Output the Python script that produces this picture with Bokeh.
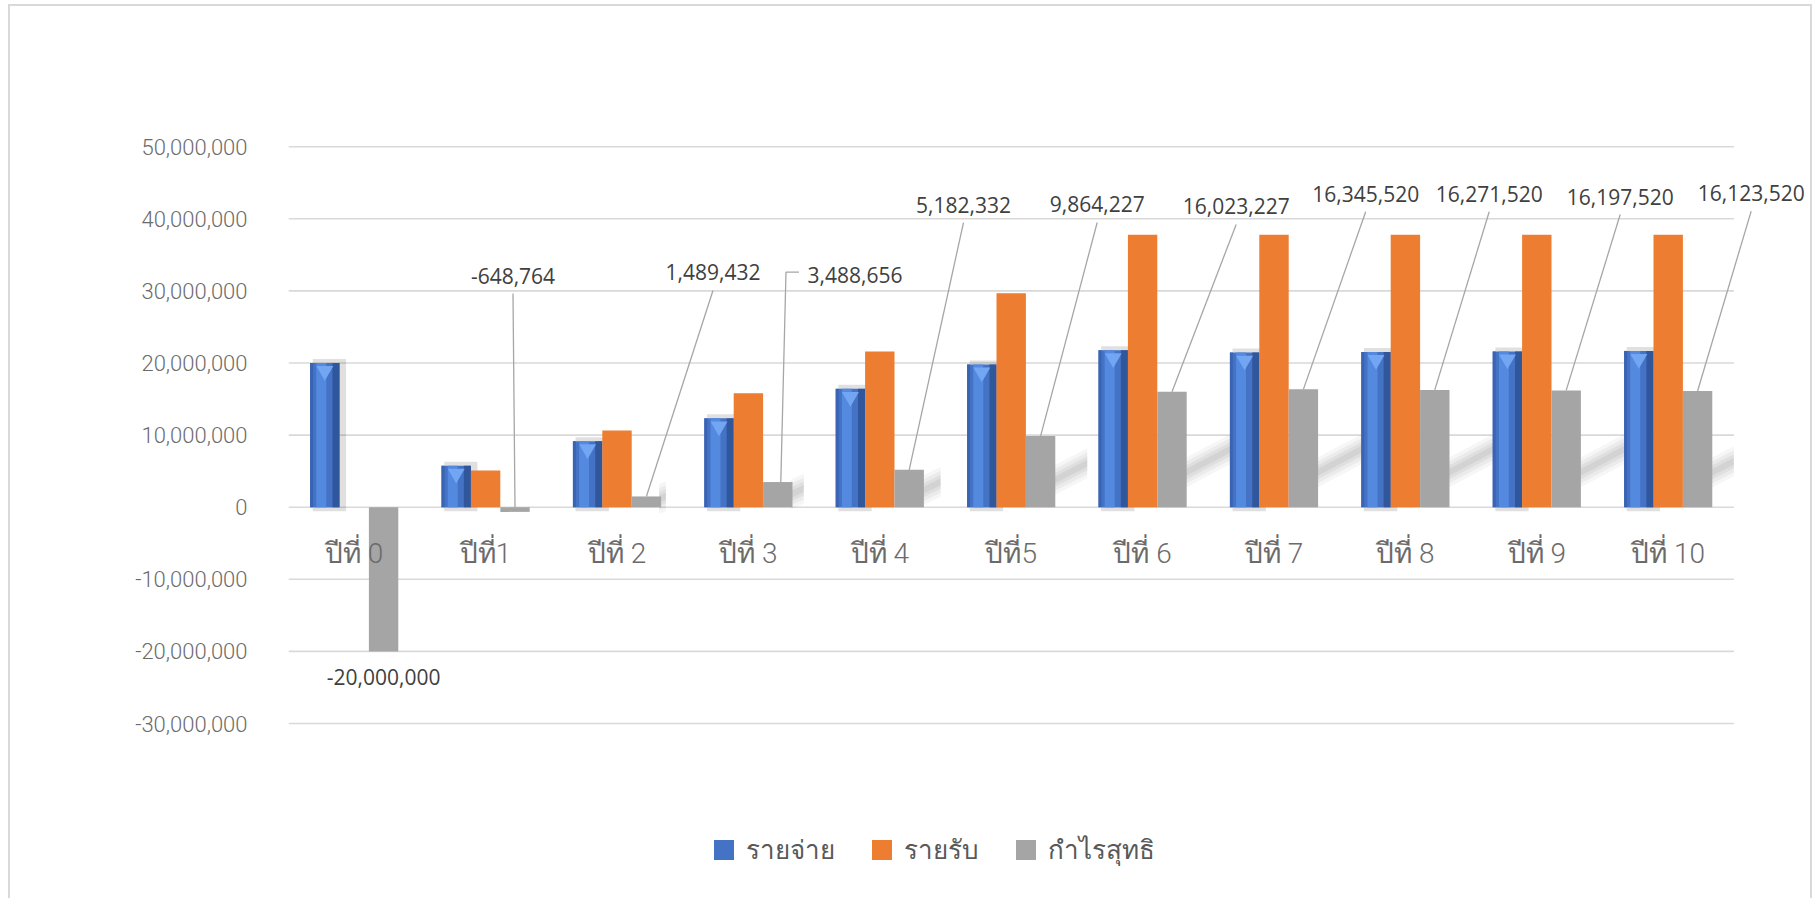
from bokeh.plotting import figure
from bokeh.models import (FixedTicker, NumeralTickFormatter, Range1d, Legend, LegendItem)
from bokeh.embed import file_html
from bokeh.resources import INLINE
from bokeh.core.properties import value

# ---------------- data ----------------
categories = ["ปีที่ 0", "ปีที่1", "ปีที่ 2", "ปีที่ 3", "ปีที่ 4", "ปีที่5",
              "ปีที่ 6", "ปีที่ 7", "ปีที่ 8", "ปีที่ 9", "ปีที่ 10"]
series_names = ["รายจ่าย", "รายรับ", "กำไรสุทธิ"]
expense = [20000000, 5750000, 9150000, 12320000, 16420000, 19800000,
           21780000, 21450000, 21530000, 21600000, 21680000]
revenue = [0, 5100000, 10640000, 15810000, 21600000, 29660000,
           37800000, 37800000, 37800000, 37800000, 37800000]
net = [-20000000, -648764, 1489432, 3488656, 5182332, 9864227,
       16023227, 16345520, 16271520, 16197520, 16123520]
y_ticks = [-30000000, -20000000, -10000000, 0, 10000000, 20000000,
           30000000, 40000000, 50000000]

# ---------------- layout (pixels) ----------------
W, H = 1819, 898
FL, FR, FT, FB = 288, 1812, 5, 898
FW, FH = FR - FL, FB - FT
SLOT_PX = 131.4
ZERO_PX = 501.7          # zero line, measured from frame top
PX_PER_10M = 72.1

x_start = -0.5
x_end = x_start + FW / SLOT_PX
x_last = len(categories) - 0.5
y_end = ZERO_PX / PX_PER_10M * 1e7
y_start = y_end - FH / PX_PER_10M * 1e7
ux = (x_end - x_start) / FW     # data units per px
uy = (y_end - y_start) / FH

# data-label placement offsets (px, relative to bar end; +dy = down)
lab_dx_px = [0, -2, 66.6, 77.2, 54.3, 56.6, 64.2, 62.3, 54.4, 54, 53.6]
lab_dy_px = [26, -231.7, -224, -207, -265.3, -231.6, -185.2, -195.6, -196.1, -193.9, -197.8]
leader_kind = ["none", "vert", "diag", "elbow", "diag", "diag", "diag", "diag", "diag", "diag", "diag"]

LIGHT_FONT = "Roboto Light, Roboto, sans-serif"
BW = 0.2237
xs = list(range(len(categories)))
x_blue = [x - BW for x in xs]
x_or = xs
x_gr = [x + BW for x in xs]

BLUE = "#4472c4"
ORANGE = "#ed7d31"
GRAY = "#a5a5a5"
BORDER = "#d9d9d9"

p = figure(width=W, height=H, x_range=Range1d(x_start, x_end), y_range=Range1d(y_start, y_end),
           output_backend="svg", toolbar_location=None,
           min_border_left=FL, min_border_right=W - FR, min_border_top=FT, min_border_bottom=H - FB)
p.xaxis.visible = False
p.xgrid.visible = False
p.ygrid.visible = False
p.outline_line_color = None
p.background_fill_alpha = 0
p.border_fill_alpha = 0
# chart-area border (like the spreadsheet chart frame)
p.styles = {
    "background-color": "white",
    "background-image": ("linear-gradient(%s,%s), linear-gradient(%s,%s), linear-gradient(%s,%s)"
                         % ((BORDER,) * 6)),
    "background-size": "2px 900px, 1804px 2px, 2px 900px",
    "background-position": "8px 4px, 8px 4px, 1810px 4px",
    "background-repeat": "no-repeat",
}

ax = p.yaxis[0]
ax.ticker = FixedTicker(ticks=y_ticks)
ax.formatter = NumeralTickFormatter(format="0,0")
ax.axis_line_color = None
ax.major_tick_line_color = None
ax.minor_tick_line_color = None
ax.major_label_standoff = 35
ax.major_label_text_font = LIGHT_FONT
ax.major_label_text_font_size = "22px"
ax.major_label_text_color = "#6b6b6b"

# gridlines
n = len(y_ticks)
p.segment(x0=[x_start] * n, y0=y_ticks, x1=[x_last] * n, y1=y_ticks,
          line_color=BORDER, line_width=1.6)

# soft diagonal shadows cast by the profit bars
for thick, alpha in ((30, 0.035), (22, 0.045), (14, 0.05), (7, 0.05)):
    pxs, pys = [], []
    for i, v in enumerate(net):
        if v <= 0:
            continue
        hp = v / 1e7 * PX_PER_10M
        c0 = min(34.0, 0.3 * hp + 5)
        L = min(50.0, 0.45 * hp)
        xr = x_gr[i] + BW / 2
        x0 = xr - 2 * ux
        x1 = min(xr + L * ux, x_last)
        Lx = (x1 - xr) / ux
        yc0, yc1 = c0 * uy, (c0 + 0.55 * Lx) * uy
        h = thick / 2 * uy
        pxs.append([x0, x1, x1, x0])
        pys.append([yc0 - h, yc1 - h, yc1 + h, yc0 + h])
    p.patches(xs=pxs, ys=pys, fill_color="black", fill_alpha=alpha, line_color=None)

# blue bars with soft shadow and bevel
p.vbar(x=[x + 0.035 for x in x_blue], width=BW + 0.03, bottom=[-4 * uy] * len(xs),
       top=[e + 4 * uy for e in expense], fill_color="black", fill_alpha=0.12, line_color=None)
r_blue = p.vbar(x=x_blue, width=BW, top=expense, bottom=0, fill_color=BLUE, line_color=None)
p.vbar(x=[x - BW * 0.12 for x in x_blue], width=BW * 0.34, top=expense, bottom=0,
       fill_color="#5489e0", line_color=None)
p.vbar(x=[x + BW * 0.38 for x in x_blue], width=BW * 0.24, top=expense, bottom=0,
       fill_color="#30569c", line_color=None)
p.vbar(x=[x - BW * 0.45 for x in x_blue], width=BW * 0.1, top=expense, bottom=0,
       fill_color="#3a64b3", line_color=None)
p.scatter(x=x_blue, y=[e - 8 * uy for e in expense], marker="inverted_triangle", size=17,
          fill_color="#72a5f2", line_color=None)

r_or = p.vbar(x=x_or, width=BW, top=revenue, bottom=0, fill_color=ORANGE, line_color=None)
r_gr = p.vbar(x=x_gr, width=BW, top=net, bottom=0, fill_color=GRAY, line_color=None)

# category labels along the zero line
p.text(x=xs, y=[0] * len(xs), text=categories, y_offset=46, text_align="center",
       text_baseline="middle", text_font=value(LIGHT_FONT),
       text_font_size="28px", text_color="#6b6b6b")

# data labels for net profit with leader lines
lab_x, lab_y, lab_t = [], [], []
lxs, lys = [], []
for i, v in enumerate(net):
    bx = x_gr[i]
    by = v if leader_kind[i] == "none" else max(v, 0)
    lx = bx + lab_dx_px[i] * ux
    ly = by - lab_dy_px[i] * uy
    lab_x.append(lx)
    lab_y.append(ly)
    lab_t.append(f"{v:,}")
    if leader_kind[i] in ("vert", "diag"):
        lxs.append([lx, bx])
        lys.append([ly - 18 * uy, by])
    elif leader_kind[i] == "elbow":
        lxs.append([lx - 56 * ux, lx - 69 * ux, bx + 3 * ux])
        lys.append([ly + 3 * uy, ly + 3 * uy, by])
p.multi_line(xs=lxs, ys=lys, line_color="#a6a6a6", line_width=1.3)
p.text(x=lab_x, y=lab_y, text=lab_t, text_align="center", text_baseline="middle",
       text_font=value("Open Sans"), text_font_size="21px", text_color="#404040")

# legend
legend = Legend(items=[LegendItem(label=series_names[0], renderers=[r_blue]),
                       LegendItem(label=series_names[1], renderers=[r_or]),
                       LegendItem(label=series_names[2], renderers=[r_gr])],
                orientation="horizontal", location=(423, 28), glyph_width=25, glyph_height=25,
                label_text_font=LIGHT_FONT, label_text_font_size="26px",
                label_text_color="#595959", label_standoff=10,
                spacing=34, padding=0, margin=0, border_line_color=None,
                background_fill_alpha=0)
p.add_layout(legend)

open("out.html", "w").write(file_html(p, INLINE))
